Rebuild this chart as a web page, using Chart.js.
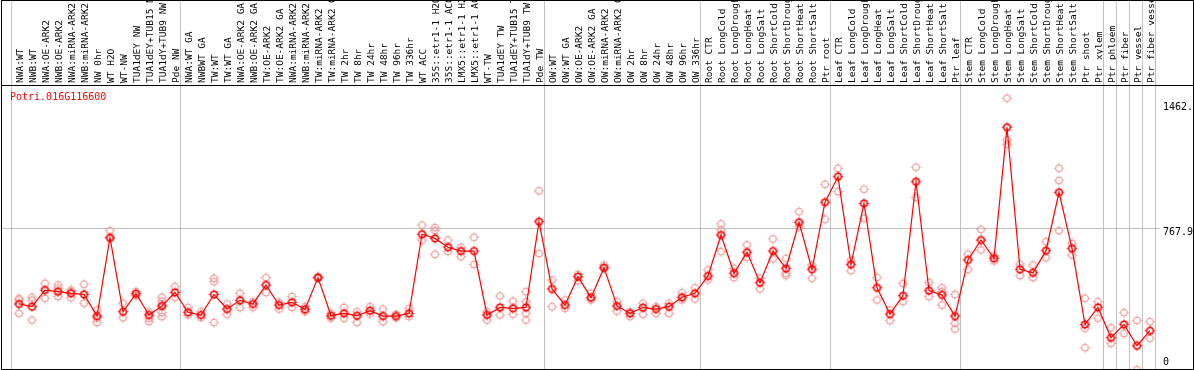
<!DOCTYPE html>
<html>
<head>
<meta charset="utf-8">
<script src="https://cdn.jsdelivr.net/npm/chart.js@4/dist/chart.umd.min.js"></script>
<style>
  body { margin: 0; background: #fff; }
  canvas { display: block; }
</style>
</head>
<body>
<canvas id="geneChart" width="1194" height="370"></canvas>
<script>
// sample names, in plotting order
var samples = [
    'NWA:WT', 'NWB:WT', 'NWA:OE-ARK2', 'NWB:OE-ARK2', 'NWA:miRNA-ARK2', 'NWB:miRNA-ARK2',
    'NW 0hr', 'WT H2O', 'WT-NW', 'TUA1dEY NW', 'TUA1dEY+TUB15 NW', 'TUA1dY+TUB9 NW', 'Pde NW',
    'NWA:WT GA', 'NWBWT GA', 'TW:WT', 'TW:WT GA', 'NWA:OE-ARK2 GA', 'NWB:OE-ARK2 GA',
    'TW:OE-ARK2', 'TW:OE-ARK2 GA', 'NWA:miRNA-ARK2 GA', 'NWB:miRNA-ARK2 GA', 'TW:miRNA-ARK2',
    'TW:miRNA-ARK2 GA', 'TW 2hr', 'TW 8hr', 'TW 24hr', 'TW 48hr', 'TW 96hr', 'TW 336hr',
    'WT ACC', '35S::etr1-1 H2O', '35S::etr1-1 ACC', 'LMX5::etr1-1 H2O', 'LMX5::etr1-1 ACC',
    'WT-TW', 'TUA1dEY TW', 'TUA1dEY+TUB15 TW', 'TUA1dY+TUB9 TW', 'Pde TW',
    'OW:WT', 'OW:WT GA', 'OW:OE-ARK2', 'OW:OE-ARK2 GA', 'OW:miRNA-ARK2', 'OW:miRNA-ARK2 GA',
    'OW 2hr', 'OW 8hr', 'OW 24hr', 'OW 48hr', 'OW 96hr', 'OW 336hr',
    'Root CTR', 'Root LongCold', 'Root LongDrought', 'Root LongHeat', 'Root LongSalt',
    'Root ShortCold', 'Root ShortDrought', 'Root ShortHeat', 'Root ShortSalt', 'Ptr root',
    'Leaf CTR', 'Leaf LongCold', 'Leaf LongDrought', 'Leaf LongHeat', 'Leaf LongSalt',
    'Leaf ShortCold', 'Leaf ShortDrought', 'Leaf ShortHeat', 'Leaf ShortSalt', 'Ptr leaf',
    'Stem CTR', 'Stem LongCold', 'Stem LongDrought', 'Stem LongHeat', 'Stem LongSalt',
    'Stem ShortCold', 'Stem ShortDrought', 'Stem ShortHeat', 'Stem ShortSalt',
    'Ptr shoot', 'Ptr xylem', 'Ptr phloem', 'Ptr fiber', 'Ptr vessel', 'Ptr fiber vessel'
];

// mean expression per sample
var means = [
    349, 334, 426, 417, 408, 402, 282, 716, 306, 406, 288, 338, 413,
    303, 288, 402, 321, 369, 349, 454, 343, 358, 319, 495, 284, 297, 284, 312, 282, 282, 297,
    735, 712, 663, 642, 642, 288, 330, 325, 330, 805,
    432, 343, 500, 384, 550, 338, 297, 329, 321, 334, 386, 408,
    504, 731, 519, 635, 467, 642, 546, 801, 541, 912,
    1054, 568, 906, 439, 293, 395, 1026, 423, 399, 282,
    593, 703, 602, 1327, 541, 522, 644, 967, 657, 236, 330,
    162, 236, 118, 201
];

// individual replicates per sample
var replicates = [
    [380, 371, 297], [386, 371, 260], [463, 380], [454, 436, 390], [426, 417, 384], [458, 353],
    [316, 270, 247], [755, 712], [353, 273], [417, 395], [306, 270, 251], [386, 365, 343, 301, 279],
    [445, 386],
    [330, 288], [306, 275], [491, 472, 247], [349, 292], [408, 329], [362, 330], [495, 413],
    [358, 321], [390, 330], [334, 306], [500, 490], [297, 270], [330, 270], [306, 247], [334, 294],
    [321, 251], [292, 272], [325, 279], [786, 703], [772, 755, 624], [703, 639], [663, 611],
    [718, 568], [306, 260], [393, 288], [365, 292], [417, 362, 297, 260], [975, 629],
    [482, 334], [371, 325], [513, 478], [408, 371], [565, 545], [362, 310], [306, 279], [353, 292],
    [334, 297], [353, 297], [412, 371], [439, 377],
    [537, 482], [792, 759, 639], [546, 495], [676, 607], [491, 432], [709, 598], [602, 519, 506],
    [860, 777], [565, 491], [1011, 818],
    [1100, 971], [592, 533], [984, 823], [496, 371], [316, 257], [463, 362], [1106, 939],
    [469, 390], [439, 417, 343], [402, 242, 210],
    [626, 541], [762, 648], [616, 587], [1488, 1257, 1233], [570, 506], [565, 495], [694, 605],
    [1100, 1032, 755], [685, 620], [380, 214, 107], [362, 270],
    [218, 131], [301, 186], [258, -15], [251, 159]
];

// first sample of each tissue block (88 = closing edge)
var groupStarts = [0, 13, 41, 53, 63, 73, 84, 85, 86, 87, 88];

var yTicks = [0, 767.9, 1462.4];
var yTickLabels = ['0', '767.9', '1462.'];
var geneName = 'Potri.016G116600';

var mono = 'DejaVu Sans Mono';

// circle marker with little spurs, like the original plot
function makeMarker(color, lw) {
    var c = document.createElement('canvas');
    c.width = 13;
    c.height = 13;
    var g = c.getContext('2d');
    g.strokeStyle = color;
    g.lineWidth = lw;
    g.beginPath();
    g.arc(6.5, 6.5, 3.3, 0, Math.PI * 2);
    g.stroke();
    g.lineWidth = 1;
    g.beginPath();
    g.moveTo(6.5, 1.5); g.lineTo(6.5, 3.2);
    g.moveTo(6.5, 9.8); g.lineTo(6.5, 11.5);
    g.moveTo(1.5, 6.5); g.lineTo(3.2, 6.5);
    g.moveTo(9.8, 6.5); g.lineTo(11.5, 6.5);
    g.stroke();
    return c;
}

var repPoints = [];
replicates.forEach(function (vals, i) {
    vals.forEach(function (v) { repPoints.push({ x: samples[i], y: v }); });
});

var framePlugin = {
    id: 'frame',
    beforeDatasetsDraw: function (chart) {
        var ctx = chart.ctx, x = chart.scales.x, y = chart.scales.y;
        var x0 = x.getPixelForValue(0);
        var step = x.getPixelForValue(1) - x0;
        ctx.save();
        ctx.strokeStyle = '#c0c0c0';
        ctx.lineWidth = 1;
        groupStarts.forEach(function (i) {
            var px = Math.round(x0 + i * step - 8) + 0.5;
            ctx.beginPath();
            ctx.moveTo(px, 0);
            ctx.lineTo(px, 370);
            ctx.stroke();
        });
        var gy = Math.round(y.getPixelForValue(yTicks[1])) + 0.5;
        ctx.beginPath();
        ctx.moveTo(2, gy);
        ctx.lineTo(1160, gy);
        ctx.stroke();
        ctx.restore();
    },
    afterDraw: function (chart) {
        var ctx = chart.ctx;
        ctx.save();
        ctx.strokeStyle = '#000';
        ctx.lineWidth = 1;
        ctx.strokeRect(1.5, 0.5, 1192, 369);
        ctx.beginPath();
        ctx.moveTo(1, 85.5);
        ctx.lineTo(1194, 85.5);
        ctx.stroke();
        ctx.fillStyle = '#ff0000';
        ctx.font = '10px "' + mono + '"';
        ctx.textBaseline = 'middle';
        ctx.fillText(geneName, 10, 97);
        ctx.restore();
    }
};

new Chart(document.getElementById('geneChart'), {
    type: 'line',
    data: {
        labels: samples,
        datasets: [{
            label: 'mean',
            data: means,
            borderColor: '#ff0000',
            borderWidth: 1.2,
            pointStyle: makeMarker('#ff0000', 1.6),
            pointRadius: 5,
            tension: 0,
            fill: false,
            clip: { left: 10, right: 10, top: 10, bottom: 0 },
            order: 0
        }, {
            label: 'replicates',
            data: repPoints,
            showLine: false,
            pointStyle: makeMarker('#f09898', 1.1),
            pointRadius: 5,
            clip: { left: 10, right: 10, top: 10, bottom: 0 },
            order: 1
        }]
    },
    options: {
        responsive: false,
        animation: false,
        devicePixelRatio: 1,
        layout: { autoPadding: false, padding: { left: 19, right: 0, top: 0, bottom: 1 } },
        plugins: {
            legend: { display: false },
            tooltip: { enabled: false }
        },
        scales: {
            x: {
                position: 'top',
                offset: false,
                grid: { display: false, drawTicks: false },
                border: { display: false },
                ticks: {
                    autoSkip: false,
                    maxRotation: 90,
                    minRotation: 90,
                    padding: 2,
                    labelOffset: 13,
                    color: '#000',
                    font: { family: mono, size: 9.5 }
                },
                afterFit: function (scale) {
                    scale.height = 85;
                    scale.paddingLeft = 0;
                    scale.paddingRight = 0;
                }
            },
            y: {
                position: 'right',
                min: -11,
                max: 1561,
                grid: { display: false, drawTicks: false },
                border: { display: false },
                afterBuildTicks: function (scale) {
                    scale.ticks = yTicks.map(function (v) { return { value: v }; });
                },
                afterFit: function (scale) {
                    scale.width = 44;
                    scale.paddingTop = 0;
                    scale.paddingBottom = 0;
                },
                ticks: {
                    padding: 13,
                    color: '#000',
                    font: { family: mono, size: 10, lineHeight: 0.85 },
                    callback: function (value, index) {
                        // nudge text so it sits beside its value like the original
                        return index === 0 ? [yTickLabels[index], ''] : ['', yTickLabels[index]];
                    }
                }
            }
        }
    },
    plugins: [framePlugin]
});
</script>
</body>
</html>
